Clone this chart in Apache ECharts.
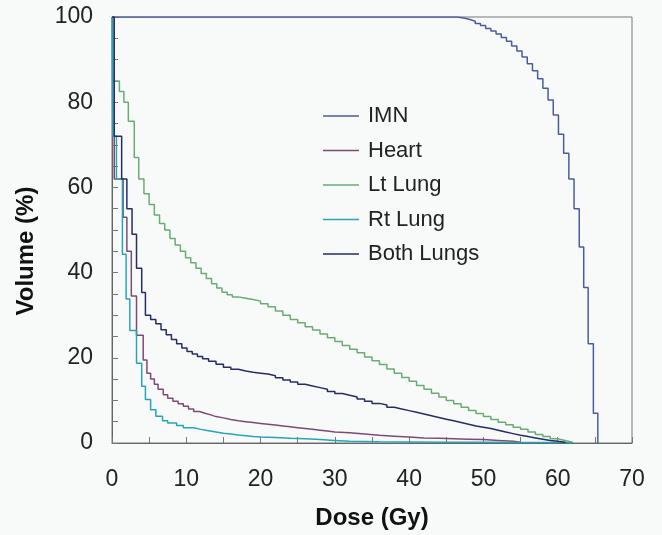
<!DOCTYPE html>
<html>
<head>
<meta charset="utf-8">
<script src="https://cdn.jsdelivr.net/npm/echarts@6/dist/echarts.min.js"></script>
<style>
  html, body { margin: 0; padding: 0; background: #f8fafa; }
  #main { width: 662px; height: 535px; }
</style>
</head>
<body>
<div id="main"></div>
<script>
// DVH curves: [dose (Gy), volume (%)], volume holds until next dose
var names = ['IMN', 'Heart', 'Lt Lung', 'Rt Lung', 'Both Lungs'];
var colors = ['#4a5c9e', '#7e4a74', '#6aac74', '#25a6b8', '#262c68'];

var imn = [[0,100],[46.5,99.7],[47.5,99.4],[48.2,99],[48.9,98.5],[49.6,98],[50.3,97.3],[51,96.7],
  [51.7,96],[52.4,95.2],[53.1,94.3],[53.8,93.2],[54.5,92],[55.2,90.6],[55.9,89],[56.6,87.4],
  [57.3,85.5],[58,83.3],[58.7,80.5],[59.4,77],[60.1,72.5],[60.8,68],[61.5,62],[62.2,55],
  [62.9,46],[63.5,36.5],[64.1,23.3],[64.8,7],[65.4,0]];

var heart = [[0,100],[0.3,62],[1.5,53],[2.0,45],[2.6,34.5],[3.3,25.3],[4.2,19.5],[4.7,16.4],
  [5.2,15],[5.7,13.8],[6.2,12.6],[6.9,11.3],[7.5,10.5],[8.2,9.8],[8.9,9.2],[9.6,8.6],[10.3,8],
  [11,7.4],[11.8,7],[12.5,6.6],[13.3,6.2],[14,5.9],[15,5.5],[16,5.2],[17,5],[18,4.8],[19,4.6],
  [20,4.4],[21,4.2],[22,4],[23,3.8],[24,3.6],[25,3.4],[26,3.2],[27,3],[28,2.8],[29,2.6],[30,2.4],
  [32,2.1],[34,1.8],[36,1.6],[38,1.4],[40,1.2],[42,1.1],[44,1.0],[46,0.9],[48,0.8],[50,0.6],
  [52,0.4],[54,0.2],[55,0]];

var ltLung = [[0,100],[0.3,85],[1.0,82.5],[1.6,80],[2.2,75.5],[3.0,67],[3.6,62],[4.3,58.5],
  [5.0,56],[5.7,53.5],[6.4,51.5],[7.1,50],[7.8,48],[8.5,46.5],[9.2,45],[9.9,43.5],[10.6,42.3],
  [11.3,41],[12,39.8],[12.7,38.6],[13.4,37.4],[14.1,36.4],[14.8,35.4],[15.5,34.8],[16.2,34.3],
  [17,34],[18,33.7],[19,33.3],[20,32.7],[21,32],[22,31],[23,30],[24,29],[25,28.2],[26,27.3],
  [27,26.5],[28,25.6],[29,24.7],[30,23.8],[31,22.9],[32,22],[33,21.2],[34,20.2],[35,19.3],
  [36,18.4],[37,17.4],[38,16.4],[39,15.4],[40,14.5],[41,13.5],[42,12.6],[43,11.7],[44,10.8],
  [45,10],[46,9.2],[47,8.4],[48,7.6],[49,6.9],[50,6.2],[51,5.5],[52,4.9],[53,4.3],[54,3.7],
  [55,3.2],[56,2.6],[57,2.0],[58,1.5],[59,1.0],[60,0.6],[61,0.2],[62,0]];

var rtLung = [[0,100],[0.1,72],[0.6,62],[1.4,44.3],[1.9,33.8],[2.4,26.4],[3.3,18.7],[4.0,13.3],
  [4.5,10.2],[5.2,7.8],[5.9,6.3],[6.8,5.2],[7.5,4.7],[8.7,4.1],[9.6,3.6],[11,3.2],[12,2.9],
  [13,2.6],[14,2.3],[15,2.1],[16,1.9],[17,1.7],[18,1.5],[19,1.4],[20,1.3],[22,1.1],[24,1.0],
  [26,0.8],[28,0.6],[30,0.4],[32,0.3],[36,0.25],[40,0.2],[45,0.15],[50,0.1],[55,0.1],[60,0.05],
  [62,0]];

var bothLungs = [[0,100],[0.3,72],[1.3,62],[2.0,55],[2.7,49],[3.3,41],[4.0,35.3],[4.5,30],
  [5.2,29],[5.9,28],[6.6,26.6],[7.3,25.4],[8.0,24.3],[8.7,23.3],[9.4,22.3],[10.1,21.5],
  [10.8,20.9],[11.5,20.3],[12.2,19.8],[13,19.2],[14,18.5],[15,17.8],[16,17.3],[17,16.9],
  [18,16.6],[19,16.4],[20,16.2],[21,15.8],[22,15.3],[23,14.8],[24,14.3],[25,13.8],[26,13.4],
  [27,13],[28,12.6],[29,12.1],[30,11.6],[31,11.2],[32,10.8],[33,10.3],[34,9.8],[35,9.3],
  [36,8.9],[37,8.4],[38,8],[39,7.6],[40,7.2],[41,6.8],[42,6.4],[43,6],[44,5.6],[45,5.2],
  [46,4.8],[47,4.4],[48,4],[49,3.7],[50,3.4],[51,3],[52,2.6],[53,2.2],[54,1.8],[55,1.5],
  [56,1.2],[57,0.9],[58,0.6],[59,0.4],[60,0.2],[61,0]];

var curves = [imn, heart, ltLung, rtLung, bothLungs];

var font = '"Liberation Sans", Arial, Helvetica, sans-serif';
var myChart = echarts.init(document.getElementById('main'));

var series = names.map(function (name, i) {
    return {
        name: name,
        type: 'line',
        step: 'end',
        showSymbol: false,
        animation: false,
        color: colors[i],
        lineStyle: { width: 1.5, color: colors[i] },
        data: curves[i]
    };
});

myChart.setOption({
    backgroundColor: '#f8fafa',
    textStyle: { fontFamily: font },
    grid: {
        left: 112, right: 30, top: 17, bottom: 88,
        show: true, borderColor: '#777', borderWidth: 1, backgroundColor: 'transparent'
    },
    legend: {
        orient: 'vertical',
        left: 318,
        top: 100,
        icon: 'rect',
        itemWidth: 36,
        itemHeight: 1.5,
        itemGap: 12.5,
        textStyle: { fontSize: 22, color: '#222', fontFamily: font, padding: [0, 0, 0, 4] },
        data: names
    },
    xAxis: {
        type: 'value',
        min: 0, max: 70, interval: 10,
        name: 'Dose (Gy)',
        nameLocation: 'middle',
        nameGap: 63,
        nameTextStyle: { fontSize: 24, fontWeight: 'bold', color: '#111', fontFamily: font },
        axisLine: { lineStyle: { color: '#666', width: 1 } },
        axisTick: { inside: true, length: 6, lineStyle: { color: '#777' } },
        minorTick: { show: true, splitNumber: 2, length: 6, lineStyle: { color: '#777' } },
        splitLine: { show: false },
        axisLabel: { fontSize: 23, color: '#222', margin: 25, fontFamily: font }
    },
    yAxis: {
        type: 'value',
        min: 0, max: 100, interval: 20,
        name: 'Volume (%)',
        nameLocation: 'middle',
        nameGap: 74,
        nameTextStyle: { fontSize: 24, fontWeight: 'bold', color: '#111', fontFamily: font,
            padding: [0, 42, 0, 0] },
        axisLine: { lineStyle: { color: '#666', width: 1 } },
        axisTick: { inside: true, length: 6, lineStyle: { color: '#777' } },
        minorTick: { show: true, splitNumber: 4, length: 6, lineStyle: { color: '#777' } },
        splitLine: { show: false },
        axisLabel: { fontSize: 23, color: '#222', margin: 19, fontFamily: font }
    },
    series: series
});
</script>
</body>
</html>
